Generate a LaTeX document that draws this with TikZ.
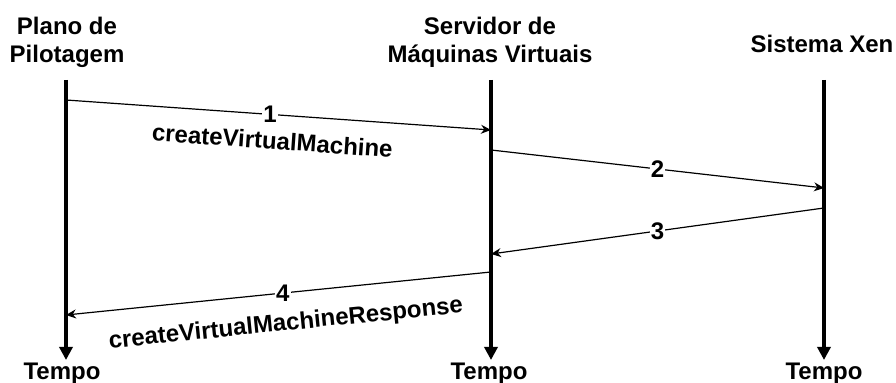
\documentclass[tikz,border=0pt]{standalone}
\usepackage{fontspec}
\setmainfont{Liberation Sans}
\usetikzlibrary{arrows.meta}
\definecolor{seqink}{HTML}{000000}

\begin{document}
\begin{tikzpicture}[x=0.5pt, y=-0.5pt,
  every node/.style={font=\fontsize{12}{14}\selectfont\bfseries, text=seqink},
  lifeline/.style={seqink, line width=2pt, -{Triangle[length=6.5pt, width=6.5pt]}},
  msg/.style={seqink, line width=0.6pt, -{Stealth[length=5pt, width=4.5pt]}},
  num/.style={fill=white, inner sep=0.6pt}]

  \useasboundingbox (0,0) rectangle (896,383);

  % participants
  \node[align=center, anchor=base] (plano) at (67,63) {Plano de\\Pilotagem};
  \node[align=center, anchor=base] (servidor) at (490,63) {Servidor de\\Máquinas Virtuais};
  \node[anchor=base] (xen) at (822,53) {Sistema Xen};

  \coordinate (planoTop) at (66,80);
  \coordinate (servidorTop) at (491,80);
  \coordinate (xenTop) at (824,80);
  \coordinate (planoEnd) at (66,360);
  \coordinate (servidorEnd) at (491,360);
  \coordinate (xenEnd) at (824,360);

  \draw[lifeline] (planoTop) -- (planoEnd);
  \draw[lifeline] (servidorTop) -- (servidorEnd);
  \draw[lifeline] (xenTop) -- (xenEnd);

  \node[anchor=base] (tempoA) at (62,380) {Tempo};
  \node[anchor=base] (tempoB) at (489,380) {Tempo};
  \node[anchor=base] (tempoC) at (824,380) {Tempo};

  % messages
  \coordinate (m1a) at (66,100);  \coordinate (m1b) at (491,130);
  \coordinate (m2a) at (491,150); \coordinate (m2b) at (824,188);
  \coordinate (m3a) at (824,208); \coordinate (m3b) at (491,254);
  \coordinate (m4a) at (491,272); \coordinate (m4b) at (66,315);

  \draw[msg] (m1a) -- node[num, pos=0.48] (n1) {1}
    node[sloped, below=5pt, pos=0.49] (call) {createVirtualMachine} (m1b);
  \draw[msg] (m2a) -- node[num, pos=0.5] (n2) {2} (m2b);
  \draw[msg] (m3a) -- node[num, pos=0.5] (n3) {3} (m3b);
  \draw[msg] (m4a) -- node[num, pos=0.49] (n4) {4}
    node[sloped, below=6.5pt, pos=0.49] (reply) {createVirtualMachineResponse} (m4b);

\end{tikzpicture}
\end{document}
